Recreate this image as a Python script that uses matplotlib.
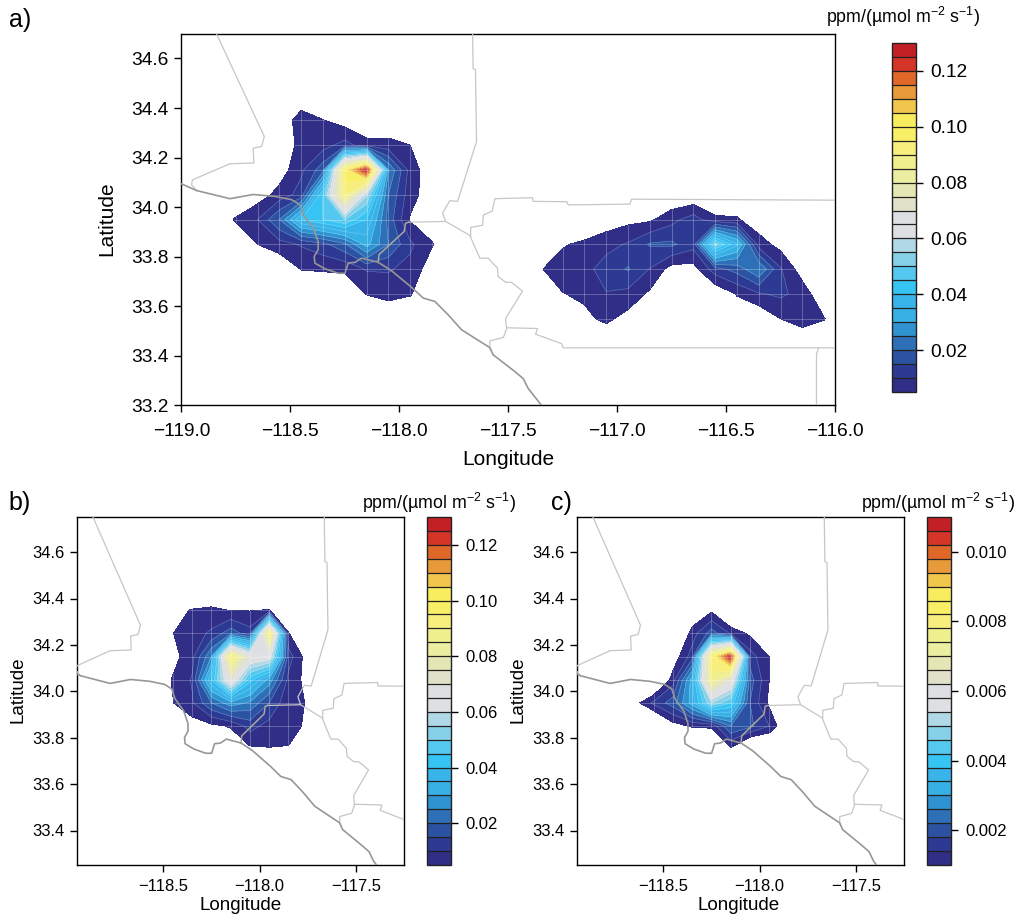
import numpy as np
import matplotlib
matplotlib.use("Agg")
import matplotlib.pyplot as plt

plt.rcParams["font.family"] = ["Liberation Sans", "DejaVu Sans"]
plt.rcParams["mathtext.fontset"] = "custom"
plt.rcParams["mathtext.rm"] = "Liberation Sans"
plt.rcParams["mathtext.default"] = "regular"

W = 1020
H = 918

band_colors = ["#302E87", "#2D3A94", "#2C52A3", "#2E70B8", "#2E93D0", "#37B0E6", "#38B4EA",
               "#36C4F4", "#55C8EF", "#86D0E8", "#B0D8E6", "#DEDFE2", "#DDDFE2", "#E1E1C9",
               "#E5E6B5", "#EBEDA0", "#F0EF8D", "#F8EE7E", "#F8EF67", "#F8ED5F", "#F0C64D",
               "#E89A3A", "#DF6829", "#D43526", "#C32026"]

levels_ab = np.linspace(0.005, 0.13, 26)
levels_c = np.linspace(0.001, 0.011, 26)

# --- panel a, Los Angeles plume ---
a_west_lons = [-118.85, -118.75, -118.65, -118.55, -118.45, -118.35, -118.25, -118.15, -118.05, -117.95, -117.85, -117.75]
a_west_lats = [34.45, 34.35, 34.25, 34.15, 34.05, 33.95, 33.85, 33.75, 33.65, 33.55]
a_west_vals = [
    [0, 0, 0, 0, 0, 0, 0, 0, 0, 0, 0, 0],
    [0, 0, 0, 0, .0083, .0052, .0024, 0, 0, 0, 0, 0],
    [0, 0, 0, 0, .007, .008, .012, .007, .007, .005, 0, 0],
    [0, 0, 0, .002, .009, .018, .098, .128, .025, .008, .001, 0],
    [0, 0, .002, .007, .012, .045, .092, .056, .02, .007, .002, 0],
    [.001, .0055, .01, .02, .04, .045, .05, .04, .018, .0045, .001, 0],
    [0, .001, .005, .008, .0105, .0135, .019, .032, .02, .011, .0055, 0],
    [0, 0, 0, 0, .0052, .0056, .006, .0105, .0105, .0085, .002, 0],
    [0, 0, 0, 0, 0, 0, 0, .0052, .007, .0055, 0, 0],
    [0, 0, 0, 0, 0, 0, 0, 0, 0, 0, 0, 0],
]

# --- panel a, desert plume ---
a_east_lons = [-117.35, -117.25, -117.15, -117.05, -116.95, -116.85, -116.75, -116.65, -116.55, -116.45, -116.35, -116.25, -116.15, -116.05, -115.95]
a_east_lats = [34.05, 33.95, 33.85, 33.75, 33.65, 33.55, 33.45]
a_east_vals = [
    [0, 0, 0, 0, 0, 0, 0, 0, 0, 0, 0, 0, 0, 0, 0],
    [0, 0, 0, .0015, .0034, .004, .0083, .0125, .006, .0056, .0015, 0, 0, 0, 0],
    [0, .0045, .006, .0085, .0105, .0155, .016, .012, .052, .036, .0075, .003, 0, 0, 0],
    [.0047, .0075, .0085, .012, .0155, .0098, .0027, .0028, .013, .017, .025, .0105, .002, 0, 0],
    [0, .0048, .006, .0098, .0085, .004, .002, .0005, 0, .0055, .0095, .011, .0082, 0, 0],
    [0, 0, .0037, .00625, .003, 0, 0, 0, 0, 0, 0, .005, .0078, .0053, 0],
    [0, 0, 0, 0, 0, 0, 0, 0, 0, 0, 0, 0, 0, 0, 0],
]

# --- panel b ---
b_lons = [-118.55, -118.45, -118.35, -118.25, -118.15, -118.05, -117.95, -117.85, -117.75, -117.65]
b_lats = [34.45, 34.35, 34.25, 34.15, 34.05, 33.95, 33.85, 33.75, 33.65]
b_vals = [
    [0, 0, 0, 0, 0, 0, 0, 0, 0, 0],
    [0, .004, .0052, .0058, .0048, .0047, .0052, 0, 0, 0],
    [0, .0049, .0075, .011, .018, .012, .095, .0052, 0, 0],
    [0, .003, .0085, .025, .094, .068, .065, .0125, .002, 0],
    [0, .0055, .0105, .04, .07, .042, .028, .0085, .003, 0],
    [0, .0048, .0095, .02, .028, .024, .015, .006, .0048, 0],
    [0, 0, .002, .0035, .0055, .012, .008, .006, .0045, 0],
    [0, 0, 0, 0, 0, .0038, .0047, .0048, 0, 0],
    [0, 0, 0, 0, 0, 0, 0, 0, 0, 0],
]

# --- panel c ---
c_lons = [-118.75, -118.65, -118.55, -118.45, -118.35, -118.25, -118.15, -118.05, -117.95, -117.85, -117.75]
c_lats = [34.45, 34.35, 34.25, 34.15, 34.05, 33.95, 33.85, 33.75, 33.65]
c_vals = [
    [0, 0, 0, 0, 0, 0, 0, 0, 0, 0, 0],
    [0, 0, 0, 0, .0005, .0009, 0, 0, 0, 0, 0],
    [0, 0, 0, 0, .0012, .002, .00135, .0009, 0, 0, 0],
    [0, 0, 0, .0007, .0016, .0082, .0108, .0016, .001, 0, 0],
    [0, 0, 0, .0012, .0032, .0076, .0062, .002, .001, 0, 0],
    [0, .0008, .0015, .002, .0032, .005, .0042, .0018, .0009, 0, 0],
    [0, 0, 0, .0008, .00105, .0011, .0022, .0019, .0014, .0004, 0],
    [0, 0, 0, 0, 0, 0, .0009, 0, 0, 0, 0],
    [0, 0, 0, 0, 0, 0, 0, 0, 0, 0, 0],
]

# --- coast and county lines (lon, lat) ---
coast_lon = [-119.0, -118.93, -118.777, -118.67, -118.57, -118.494, -118.456, -118.44, -118.394, -118.372, -118.372, -118.39, -118.387, -118.341, -118.28, -118.249, -118.234, -118.203, -118.173, -118.096, -118.035, -117.943, -117.89, -117.836, -117.775, -117.714, -117.653, -117.584, -117.569, -117.469, -117.431, -117.408, -117.347]
coast_lat = [34.094, 34.067, 34.034, 34.051, 34.043, 34.03, 34.01, 33.969, 33.915, 33.861, 33.828, 33.801, 33.774, 33.751, 33.733, 33.733, 33.774, 33.777, 33.794, 33.777, 33.743, 33.676, 33.633, 33.619, 33.565, 33.505, 33.471, 33.433, 33.404, 33.336, 33.308, 33.268, 33.2]

county_lines = [
    ([-118.865, -118.619, -118.631, -118.67, -118.667, -118.777, -118.949, -118.953, -118.93],
     [34.75, 34.285, 34.245, 34.238, 34.178, 34.175, 34.11, 34.09, 34.067]),
    ([-117.664, -117.661, -117.65, -117.645, -117.732, -117.768, -117.801, -117.787, -117.676, -117.63, -117.592, -117.549, -117.546, -117.512, -117.484, -117.434, -117.512, -117.507, -117.522, -117.584, -117.584],
     [34.75, 34.559, 34.555, 34.265, 34.023, 34.026, 33.976, 33.942, 33.886, 33.794, 33.794, 33.754, 33.72, 33.697, 33.696, 33.661, 33.55, 33.51, 33.474, 33.46, 33.429]),
    ([-117.507, -117.365, -117.374, -117.255, -117.247, -116.0],
     [33.513, 33.51, 33.487, 33.449, 33.432, 33.432]),
    ([-117.672, -117.672, -117.617, -117.614, -117.573, -117.561, -117.388, -117.385, -117.232, -117.224, -116.941, -116.934, -116.0],
     [33.883, 33.918, 33.927, 33.968, 33.984, 34.034, 34.038, 34.023, 34.022, 34.009, 34.012, 34.032, 34.028]),
    ([-116.077, -116.085, -116.085], [33.429, 33.406, 33.2]),
    ([-117.956, -117.79], [33.939, 33.942]),
]
orange_lon = [-118.096, -118.093, -117.977, -117.971, -117.956]
orange_lat = [33.777, 33.808, 33.902, 33.935, 33.939]

x_ticks_a = [-119.0, -118.5, -118.0, -117.5, -117.0, -116.5, -116.0]
x_ticks_bc = [-118.5, -118.0, -117.5]
y_ticks_a = [33.2, 33.4, 33.6, 33.8, 34.0, 34.2, 34.4, 34.6]
y_ticks_bc = [33.4, 33.6, 33.8, 34.0, 34.2, 34.4, 34.6]
cbar_ticks_ab = [0.02, 0.04, 0.06, 0.08, 0.10, 0.12]
cbar_ticks_c = [0.002, 0.004, 0.006, 0.008, 0.010]

UNITS = "ppm/(µmol m$^{-2}$ s$^{-1}$)"


def px_axes(fig, left, top, right, bottom):
    return fig.add_axes([left / W, 1 - bottom / H, (right - left) / W, (bottom - top) / H])


def px_text(fig, x, y, s, **kw):
    kw.setdefault("ha", "center")
    kw.setdefault("va", "center")
    return fig.text(x / W, 1 - y / H, s, **kw)


def draw_plume(ax, lons, lats, vals, levels):
    z = np.array(vals, dtype=float)
    cs = ax.contourf(lons, lats, z, levels=levels, colors=band_colors, zorder=2)
    ax.contour(lons, lats, z, levels=levels[1:-1], colors="white", linewidths=0.4, alpha=0.3, zorder=3)

    # the data grid only shows through inside the filled area
    outer = ax.contourf(lons, lats, z, levels=[levels[0], 1], colors="none", zorder=1)
    outline = outer.get_paths()[0]
    v = ax.vlines(lons, min(lats), max(lats), colors="white", linewidths=0.6, alpha=0.3, zorder=4)
    h = ax.hlines(lats, min(lons), max(lons), colors="white", linewidths=0.6, alpha=0.3, zorder=4)
    v.set_clip_path(outline, ax.transData)
    h.set_clip_path(outline, ax.transData)
    return cs


def draw_map(ax):
    for lon, lat in county_lines:
        ax.plot(lon, lat, color="#c6c6c6", lw=0.9, zorder=5)
    ax.plot(orange_lon, orange_lat, color="#a8a8a0", lw=1.1, zorder=5)
    ax.plot(coast_lon, coast_lat, color="#979797", lw=1.2, zorder=5)


def style_axes(ax, xlim, ylim, xticks, yticks, size, xpad):
    ax.set_xlim(*xlim)
    ax.set_ylim(*ylim)
    ax.set_xticks(xticks)
    ax.set_yticks(yticks)
    ax.tick_params(direction="out", length=5, width=1, labelsize=size, pad=4)
    ax.tick_params(axis="x", pad=xpad)
    for s in ax.spines.values():
        s.set_linewidth(1.0)


def draw_colorbar(fig, cs, left, top, right, bottom, ticks, fmt, size):
    cax = px_axes(fig, left, top, right, bottom)
    cb = fig.colorbar(cs, cax=cax, ticks=ticks, format=fmt, drawedges=True)
    cb.dividers.set_color("#222222")
    cb.dividers.set_linewidth(0.9)
    cb.outline.set_edgecolor("#222222")
    cb.outline.set_linewidth(1.0)
    cax.tick_params(direction="out", length=5, width=1, labelsize=size, pad=5)
    return cb


fig = plt.figure(figsize=(W / 100, H / 100), dpi=100)

ax_a = px_axes(fig, 181.3, 33.7, 835, 405.3)
cs_a = draw_plume(ax_a, a_west_lons, a_west_lats, a_west_vals, levels_ab)
draw_plume(ax_a, a_east_lons, a_east_lats, a_east_vals, levels_ab)
draw_map(ax_a)
style_axes(ax_a, (-119, -116), (33.2, 34.7), x_ticks_a, y_ticks_a, 13.8, 8)

ax_b = px_axes(fig, 76.7, 517.3, 404, 865.3)
cs_b = draw_plume(ax_b, b_lons, b_lats, b_vals, levels_ab)
draw_map(ax_b)
style_axes(ax_b, (-118.95, -117.25), (33.25, 34.75), x_ticks_bc, y_ticks_bc, 12, 5)

ax_c = px_axes(fig, 576.7, 517.3, 904, 865.3)
cs_c = draw_plume(ax_c, c_lons, c_lats, c_vals, levels_c)
draw_map(ax_c)
style_axes(ax_c, (-118.95, -117.25), (33.25, 34.75), x_ticks_bc, y_ticks_bc, 12, 5)

draw_colorbar(fig, cs_a, 892, 43, 916, 392, cbar_ticks_ab, "%.2f", 13.8)
draw_colorbar(fig, cs_b, 427, 517, 451, 865, cbar_ticks_ab, "%.2f", 12)
draw_colorbar(fig, cs_c, 927, 517, 951, 865, cbar_ticks_c, "%.3f", 12)

px_text(fig, 20, 20, "a)", fontsize=18)
px_text(fig, 20, 503, "b)", fontsize=18)
px_text(fig, 561, 503, "c)", fontsize=18)

px_text(fig, 508, 460, "Longitude", fontsize=15)
px_text(fig, 107, 219, "Latitude", fontsize=15, rotation=90)
px_text(fig, 241, 906, "Longitude", fontsize=13.6)
px_text(fig, 18, 690, "Latitude", fontsize=13.6, rotation=90)
px_text(fig, 739, 906, "Longitude", fontsize=13.6)
px_text(fig, 518, 690, "Latitude", fontsize=13.6, rotation=90)

px_text(fig, 903, 17, UNITS, fontsize=12.8)
px_text(fig, 439, 503, UNITS, fontsize=12.8)
px_text(fig, 938, 503, UNITS, fontsize=12.8)

fig.savefig("out.png", dpi=100)
